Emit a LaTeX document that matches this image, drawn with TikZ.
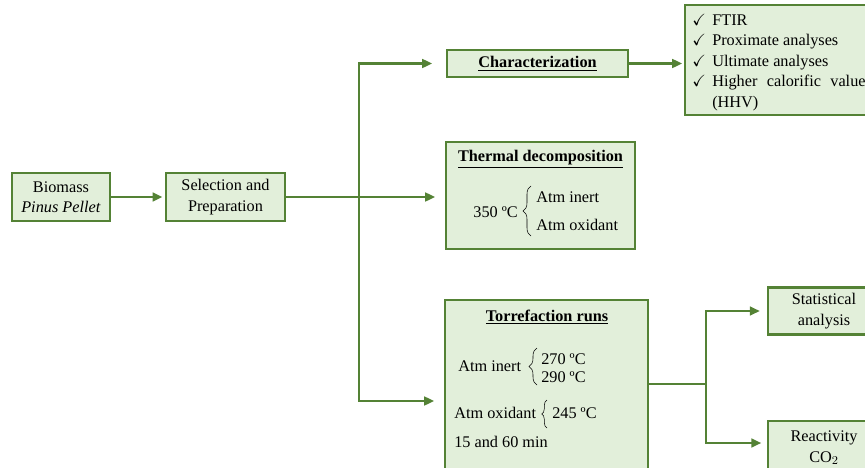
\documentclass[tikz,border=0pt]{standalone}
\usepackage{fontspec}
\setmainfont{Liberation Serif}
\usepackage{amssymb}
\usetikzlibrary{arrows.meta,decorations.pathreplacing}
\definecolor{leafgreen}{HTML}{548235}
\definecolor{palegreen}{HTML}{E2EFDA}

\begin{document}
\begin{tikzpicture}[x=0.75pt, y=-0.75pt, font=\fontsize{12.2}{15.3}\selectfont,
  box/.style={draw=leafgreen, fill=palegreen, line width=2.2pt, inner sep=0pt},
  flow/.style={draw=leafgreen, line width=1.9pt, -{Triangle[length=7.5pt,width=6.5pt]}},
  trunk/.style={draw=leafgreen, line width=1.9pt},
  curly/.style={decorate, decoration={brace, amplitude=#1}, thin},
  curly/.default=5pt,
  txt/.style={inner sep=0pt}]
\useasboundingbox (0,0) rectangle (865,468);
% left column
\node[box, minimum width=73.5pt, minimum height=36pt, align=center] (bio) at (61,197) {Biomass\\\textit{Pinus Pellet}};
\node[box, minimum width=89.25pt, minimum height=36pt, align=center] (sel) at (225.5,197) {Selection and\\Preparation};
% characterization
\node[box, minimum width=135.75pt, minimum height=20.25pt] (char) at (537.5,63.5) {\underline{\textbf{Characterization}}\vphantom{g}};
\node[box, minimum width=165pt, minimum height=82.5pt] (list) at (795,60) {};
\node[txt, anchor=north west, align=left] (items) at (692,14) {%
  \makebox[15pt][l]{\checkmark}FTIR\\
  \makebox[15pt][l]{\checkmark}Proximate analyses\\
  \makebox[15pt][l]{\checkmark}Ultimate analyses\\
  \makebox[15pt][l]{\checkmark}\makebox[115pt][s]{Higher calorific value}\\
  \hspace*{15pt}(HHV)};
% thermal decomposition
\node[box, minimum width=141.75pt, minimum height=80.25pt] (therm) at (540.5,195.5) {};
\node[txt] (thermT) at (540.5,159) {\underline{\textbf{Thermal decomposition}}};
\node[txt, anchor=east] (t350) at (518,212) {350 ºC};
\draw[curly=6pt] (531,236) -- (531,186);
\node[txt, anchor=west] (tIn) at (536,197) {Atm inert};
\node[txt, anchor=west] (tOx) at (536,225) {Atm oxidant};
% torrefaction runs
\node[box, minimum width=152.25pt, minimum height=151.5pt] (torr) at (546.5,401) {};
\node[txt] (torrT) at (547,317) {\underline{\textbf{Torrefaction runs}}};
\node[txt, anchor=west] (rIn) at (458,366) {Atm inert};
\draw[curly=6pt] (537,385) -- (537,348);
\node[txt, anchor=west] (r270) at (541,359) {270 ºC};
\node[txt, anchor=west] (r290) at (541,377) {290 ºC};
\node[txt, anchor=west] (rOx) at (454,413) {Atm oxidant};
\draw[curly=4pt] (547,428) -- (547,400);
\node[txt, anchor=west] (r245) at (552,413) {245 ºC};
\node[txt, anchor=west] (rMin) at (454,442) {15 and 60 min};
% outputs
\node[box, minimum width=84pt, minimum height=35.25pt, align=center] (stat) at (824,311) {Statistical\\analysis};
\node[box, minimum width=84pt, minimum height=51pt] (reac) at (824,455) {};
\node[txt, align=center] (reacT) at (824,448) {Reactivity\\CO$_2$};
% connectors
\draw[flow, shorten >=1.5pt] (bio) -- (sel);
\coordinate (split) at (359,197);
\draw[trunk] (sel.east) -- (split);
\draw[flow, shorten >=7pt] (split) -- (split -| therm.west);
\draw[flow, shorten >=10pt] (split) |- (char.west);
\draw[flow, shorten >=7pt] (split) |- (torr.west);
\draw[flow, shorten >=1pt] (char.east) -- (char.east -| list.west);
\coordinate (merge) at (706,384);
\draw[trunk] (torr.east |- merge) -- (merge);
\draw[flow, shorten >=5pt] (merge) |- (stat.west);
\coordinate (reacIn) at (768,443);
\draw[flow, shorten >=5pt] (merge) |- (reacIn);
\end{tikzpicture}
\end{document}
